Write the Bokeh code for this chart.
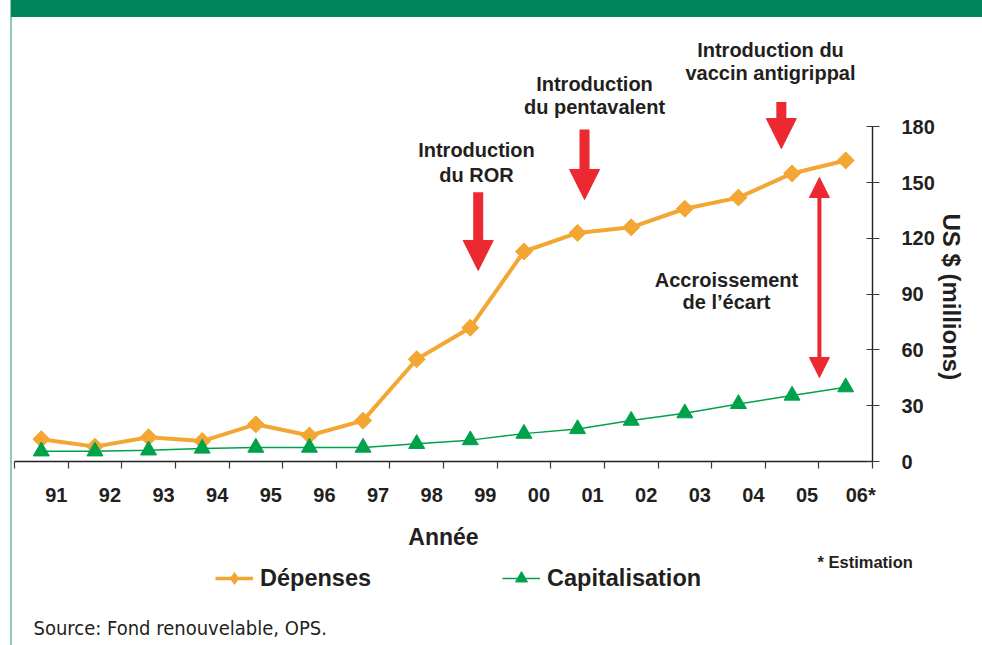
from math import pi
from bokeh.plotting import figure
from bokeh.layouts import column
from bokeh.models import (Range1d, FixedTicker, Legend, LegendItem, Label, Arrow,
                          NormalHead, ColumnDataSource, Title)
from bokeh.embed import file_html
from bokeh.resources import INLINE

# ---------------- data ----------------
years = ["91", "92", "93", "94", "95", "96", "97", "98", "99", "00",
         "01", "02", "03", "04", "05", "06*"]
depenses = [12, 8, 13, 11, 20, 14, 22, 55, 72, 113, 123, 126, 136, 142, 155, 162]
capitalisation = [5.5, 5.5, 6, 7, 7.5, 7.5, 7.5, 9.5, 11.5, 15, 17.5, 22, 26, 31, 35.5, 40]
y_ticks = [0, 30, 60, 90, 120, 150, 180]

ORANGE = "#F3A632"
GREEN = "#00A14B"
RED = "#EC2830"
BANNER = "#00855A"
BORDER = "#8DCBB4"
TXT = "#231F20"
FONT = "Liberation Sans"

n = len(years)
xs = list(range(n))
src = ColumnDataSource(dict(x=xs, dep=depenses, cap=capitalisation))

bg_main = ("linear-gradient(%s,%s) 11px 0/971px 17px no-repeat, "
           "linear-gradient(%s,%s) 10px 0/2px 100%% no-repeat, #ffffff") % (BANNER, BANNER, BORDER, BORDER)
bg_foot = "linear-gradient(%s,%s) 10px 0/2px 100%% no-repeat, #ffffff" % (BORDER, BORDER)

H_MAIN = 553
p = figure(width=982, height=H_MAIN, x_range=Range1d(-0.5, n - 0.5), y_range=Range1d(0, 237.3),
           y_axis_location="right", toolbar_location=None, output_backend="svg",
           min_border_left=14, min_border_right=110, min_border_top=20,
           min_border_bottom=H_MAIN - 461, title=None, styles={"background": bg_main})
p.outline_line_color = None
p.grid.visible = False
p.background_fill_color = "white"
p.border_fill_color = None

# ---------------- axes ----------------
label_pos = [i + 0.28 for i in xs]
xa = p.xaxis[0]
xa.ticker = FixedTicker(ticks=label_pos, minor_ticks=[i - 0.5 for i in range(n + 1)])
xa.major_label_overrides = {pos: lab for pos, lab in zip(label_pos, years)}
xa.major_tick_line_color = None
xa.major_tick_in = 0
xa.major_tick_out = 7
xa.minor_tick_line_color = "#3A3A3A"
xa.minor_tick_line_width = 1.2
xa.minor_tick_in = 0
xa.minor_tick_out = 7
xa.axis_line_color = TXT
xa.axis_line_width = 1.4
xa.major_label_standoff = 15
xa.major_label_text_font = FONT
xa.major_label_text_font_style = "bold"
xa.major_label_text_font_size = "20px"
xa.major_label_text_color = TXT
xa.axis_label = "Année"
xa.axis_label_standoff = 15
xa.axis_label_text_font = FONT
xa.axis_label_text_font_style = "bold"
xa.axis_label_text_font_size = "23px"
xa.axis_label_text_color = TXT

ya = p.yaxis[0]
ya.ticker = FixedTicker(ticks=y_ticks)
ya.bounds = (0, 180)
ya.major_tick_in = 6
ya.major_tick_out = 7
ya.major_tick_line_color = "#3A3A3A"
ya.major_tick_line_width = 1.2
ya.minor_tick_line_color = None
ya.axis_line_color = TXT
ya.axis_line_width = 1.4
ya.major_label_standoff = 22
ya.major_label_text_font = FONT
ya.major_label_text_font_style = "bold"
ya.major_label_text_font_size = "20px"
ya.major_label_text_color = TXT

p.add_layout(Title(text="US $ (millions)", align="left", offset=193, standoff=0,
                   text_font=FONT, text_font_style="bold", text_font_size="24px",
                   text_color=TXT), "right")

# ---------------- series ----------------
r1 = p.line("x", "dep", source=src, line_color=ORANGE, line_width=4)
s1 = p.scatter("x", "dep", source=src, marker="square", angle=pi / 4, size=12,
               fill_color=ORANGE, line_color=ORANGE)
r2 = p.line("x", "cap", source=src, line_color=GREEN, line_width=1.5)
s2 = p.scatter("x", "cap", source=src, marker="triangle", size=16,
               fill_color=GREEN, line_color=GREEN)

# ---------------- annotations ----------------
notes = [
    ("Introduction", 8.115, 167.4), ("du ROR", 8.115, 154.4),
    ("Introduction", 10.316, 203.4), ("du pentavalent", 10.316, 190.5),
    ("Introduction du", 13.598, 221.2), ("vaccin antigrippal", 13.598, 208.8),
    ("Accroissement", 12.777, 97.4), ("de l\u2019écart", 12.777, 85.6),
]
for t, x, y in notes:
    p.add_layout(Label(text=t, x=x, y=y, text_align="center", text_baseline="middle",
                       text_font=FONT, text_font_style="bold", text_font_size="20px",
                       text_color=TXT))

for x, y0, y1 in [(8.147, 144.9, 102.8), (10.13, 178.6, 141.0), (13.80, 193.4, 168.4)]:
    p.add_layout(Arrow(x_start=x, y_start=y0, x_end=x, y_end=y1, line_color=RED, line_width=10,
                       end=NormalHead(size=30, fill_color=RED, line_color=RED, line_width=1)))

p.add_layout(Arrow(x_start=14.51, y_start=45.2, x_end=14.51, y_end=152.8, line_color=RED, line_width=4,
                   start=NormalHead(size=20, fill_color=RED, line_color=RED, line_width=1),
                   end=NormalHead(size=20, fill_color=RED, line_color=RED, line_width=1)))

# ---------------- footer: estimation note, legend, source ----------------
H_FOOT = 645 - H_MAIN
f = figure(width=982, height=H_FOOT, y_range=Range1d(645, H_MAIN),
           x_axis_location=None, y_axis_location=None, toolbar_location=None,
           output_backend="svg", min_border=0, title=None, styles={"background": bg_foot})
try:
    f.frame_align = False
    p.frame_align = False
    FL, FR = 0, 982          # footer frame spans the whole width
except AttributeError:
    FL, FR = 14, 872         # footer frame aligned with the chart frame
f.x_range = Range1d(FL, FR)
f.outline_line_color = None
f.grid.visible = False
f.background_fill_color = None
f.border_fill_color = None

# legend samples: same series drawn with the footer's scales (outside its visible window)
lr1 = f.line("x", "dep", source=src, line_color=ORANGE, line_width=3.5)
ls1 = f.scatter("x", "dep", source=src, marker="diamond", size=12,
                fill_color=ORANGE, line_color=ORANGE)
lr2 = f.line("x", "cap", source=src, line_color=GREEN, line_width=1.5)
ls2 = f.scatter("x", "cap", source=src, marker="triangle", size=12,
                fill_color=GREEN, line_color=GREEN)

leg = Legend(items=[LegendItem(label="Dépenses", renderers=[lr1, ls1]),
                    LegendItem(label="Capitalisation", renderers=[lr2, ls2])],
             location=(215 - FL, 645 - 593), orientation="horizontal", glyph_width=38,
             glyph_height=30, label_height=30, label_standoff=7, padding=0, margin=0, spacing=131,
             border_line_color=None, background_fill_alpha=0,
             label_text_font=FONT, label_text_font_style="bold",
             label_text_font_size="23.5px", label_text_color=TXT)
f.add_layout(leg)

if FR >= 913:
    f.add_layout(Label(text="* Estimation", x=817, y=561, text_align="left", text_baseline="middle",
                       text_font=FONT, text_font_style="bold", text_font_size="16.5px",
                       text_color=TXT))
else:
    f.add_layout(Label(text="* Estimation", x=FR - 1, y=561, text_align="right",
                       text_baseline="middle", text_font=FONT, text_font_style="bold",
                       text_font_size="16.5px", text_color=TXT))
f.add_layout(Label(text="Source: Fond renouvelable, OPS.", x=33, y=627, text_align="left",
                   text_baseline="middle", text_font="DejaVu Sans Condensed",
                   text_font_size="20px", text_color=TXT))

layout = column(p, f, spacing=0)
open("out.html", "w").write(file_html(layout, INLINE))
